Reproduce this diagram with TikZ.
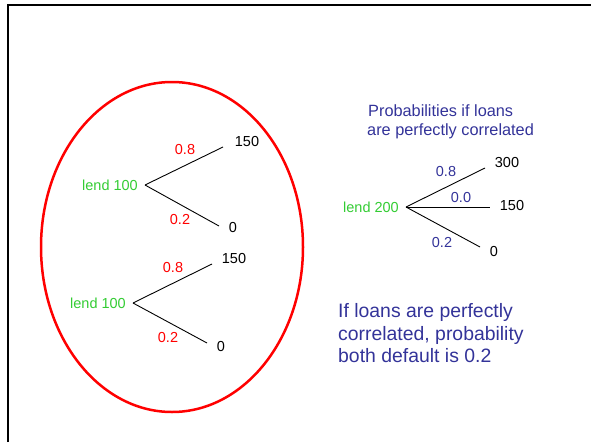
\documentclass[tikz,border=0pt]{standalone}
\usepackage{fontspec}
\setmainfont{Liberation Sans}
\definecolor{lgreen}{RGB}{51,204,51}
\definecolor{pblue}{RGB}{51,51,153}
\begin{document}
\begin{tikzpicture}[x=1pt,y=-1pt,
  lendlbl/.style={text=lgreen,font=\fontsize{14.5}{17}\selectfont,anchor=east,inner sep=0pt},
  outlbl/.style={text=black,font=\fontsize{14.5}{17}\selectfont,inner sep=0pt},
  redlbl/.style={text=red,font=\fontsize{14.5}{17}\selectfont,inner sep=0pt},
  bluelbl/.style={text=pblue,font=\fontsize{14.5}{17}\selectfont,inner sep=0pt},
  titletext/.style={text=pblue,font=\fontsize{16.3}{19}\selectfont,anchor=base west,inner sep=0pt},
  bodytext/.style={text=pblue,font=\fontsize{19.4}{22.5}\selectfont,anchor=base west,inner sep=0pt},
  branch/.style={black,line width=0.9pt}]
\useasboundingbox (0,0) rectangle (591,442);
% frame
\draw[line width=2pt] (7.5,442) -- (7.5,4.5) -- (591,4.5);
% ellipse
\draw[red,line width=2.5pt] (172,247) ellipse [x radius=131, y radius=165];
% tree 1
\coordinate (v1) at (145,185);
\coordinate (u1) at (223,147);
\coordinate (d1) at (219,226);
\node[lendlbl] (r1) at (138,185) {lend 100};
\draw[branch] (v1) -- (u1);
\draw[branch] (v1) -- (d1);
\node[redlbl] (p1a) at (185,150) {0.8};
\node[redlbl] (p1b) at (180,220) {0.2};
\node[outlbl] (o1a) at (247,142) {150};
\node[outlbl] (o1b) at (233,228) {0};
% tree 2
\coordinate (v2) at (133,303);
\coordinate (u2) at (212,264);
\coordinate (d2) at (207,343);
\node[lendlbl] (r2) at (126,303) {lend 100};
\draw[branch] (v2) -- (u2);
\draw[branch] (v2) -- (d2);
\node[redlbl] (p2a) at (173,268) {0.8};
\node[redlbl] (p2b) at (168,338) {0.2};
\node[outlbl] (o2a) at (234,259) {150};
\node[outlbl] (o2b) at (221,347) {0};
% tree 3
\coordinate (v3) at (406,207);
\coordinate (u3) at (485,168);
\coordinate (m3) at (490,207);
\coordinate (d3) at (480,247);
\node[lendlbl] (r3) at (399,207) {lend 200};
\draw[branch] (v3) -- (u3);
\draw[branch] (v3) -- (m3);
\draw[branch] (v3) -- (d3);
\node[bluelbl] (p3a) at (446,172) {0.8};
\node[bluelbl] (p3m) at (461,198) {0.0};
\node[bluelbl] (p3b) at (442,243) {0.2};
\node[outlbl] (o3a) at (507,163) {300};
\node[outlbl] (o3m) at (512,206) {150};
\node[outlbl] (o3b) at (494,252) {0};
% title
\node[titletext] (t1) at (368,116) {Probabilities if loans};
\node[titletext] (t2) at (367,135) {are perfectly correlated};
% body
\node[bodytext] (b1) at (338,317) {If loans are perfectly};
\node[bodytext] (b2) at (338,340) {correlated, probability};
\node[bodytext] (b3) at (338,362.5) {both default is 0.2};
\end{tikzpicture}
\end{document}
